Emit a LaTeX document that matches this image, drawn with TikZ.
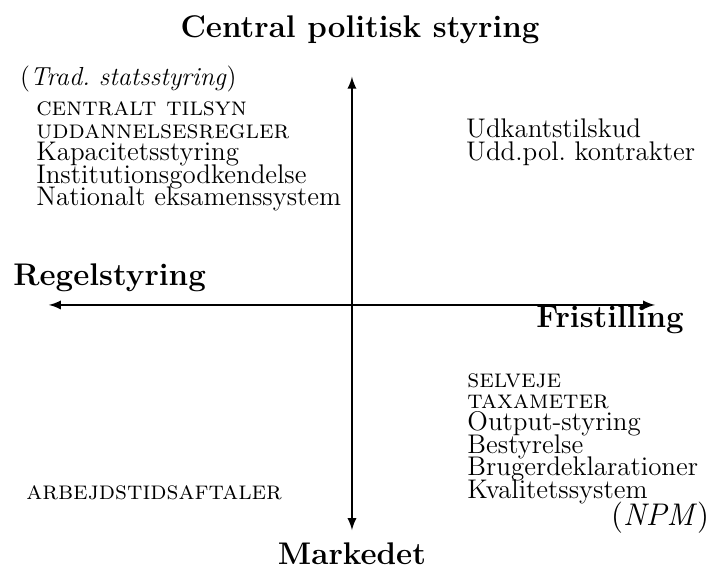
\documentclass[tikz,border=0pt]{standalone}
\usepackage{tikz}
\usetikzlibrary{arrows}

\begin{document}
\begin{tikzpicture}[>=latex,
    axis/.style={line width=0.9pt, <->},
    heading/.style={font=\Large\bfseries, anchor=base, inner sep=0pt},
    item/.style={font=\fontsize{12.4}{14}\selectfont, anchor=base west, inner sep=0pt},
    scitem/.style={font=\large, anchor=base west, inner sep=0pt}]
        \useasboundingbox (-5.69,-4.29) rectangle (5.82,4.93);

        % Axis end points
        \coordinate (west) at (-4.90, 0);
        \coordinate (east) at (4.90, 0);
        \coordinate (north) at (0, 3.69);
        \coordinate (south) at (0, -3.64);

        % Axes
        \draw[axis] (west) -- (east);
        \draw[axis] (south) -- (north);

        % Axis labels
        \node[heading] (top) at (0.13, 4.32) {Central politisk styring};
        \node[heading] (bottom) at (0, -4.20) {Markedet};
        \node[heading, anchor=base west] (left) at (-5.48, 0.32) {Regelstyring};
        \node[heading, anchor=base east] (right) at (5.37, -0.36) {Fristilling};

        % Upper left quadrant
        \node[scitem] (trad) at (-5.37, 3.54) {(\textit{Trad.\ statsstyring})};
        \node[scitem] (tilsyn) at (-5.11, 3.06) {\textsc{centralt tilsyn}};
        \node[scitem] (regler) at (-5.11, 2.695) {\textsc{uddannelsesregler}};
        \node[item] (kapacitet) at (-5.11, 2.33) {Kapacitetsstyring};
        \node[item] (godkend) at (-5.11, 1.965) {Institutionsgodkendelse};
        \node[item] (eksamen) at (-5.11, 1.60) {Nationalt eksamenssystem};

        % Upper right quadrant
        \node[item] (udkant) at (1.84, 2.70) {Udkantstilskud};
        \node[item] (kontrakt) at (1.84, 2.33) {Udd.pol.\ kontrakter};

        % Lower left quadrant
        \node[scitem] (arbejd) at (-5.27, -3.15) {\textsc{arbejdstidsaftaler}};

        % Lower right quadrant
        \node[scitem] (selveje) at (1.86, -1.34) {\textsc{selveje}};
        \node[scitem] (taxa) at (1.86, -1.68) {\textsc{taxameter}};
        \node[item] (output) at (1.86, -2.03) {Output-styring};
        \node[item] (bestyr) at (1.86, -2.40) {Bestyrelse};
        \node[item] (bruger) at (1.86, -2.76) {Brugerdeklarationer};
        \node[item] (kvalitet) at (1.86, -3.13) {Kvalitetssystem};
        \node[item, font=\Large, anchor=base east] (npm) at (5.78, -3.57) {(\textit{NPM})};
    \end{tikzpicture}
\end{document}
